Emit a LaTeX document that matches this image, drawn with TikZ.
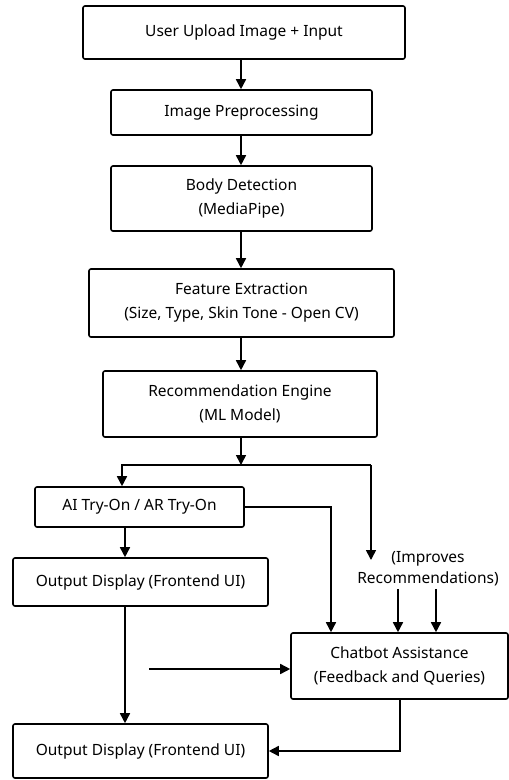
\documentclass[tikz,border=0pt]{standalone}
\usepackage{fontspec}
\setmainfont{Noto Sans}
\usetikzlibrary{arrows.meta}
\tikzset{
  box/.style={draw, line width=1.6pt, rounded corners=2pt, rectangle, align=center,
    inner sep=0pt, font=\fontsize{15.5}{24}\selectfont},
  arr/.style={line width=1.6pt, -{Triangle[length=10pt,width=10pt]}},
  lbl/.style={align=center, inner sep=0pt, font=\fontsize{15.5}{21}\selectfont}
}
\begin{document}
\begin{tikzpicture}[x=1pt, y=-1pt]
  \useasboundingbox[fill=white] (0,0) rectangle (509,780);

  % main pipeline
  \node[box, minimum width=322pt, minimum height=53pt] (up)   at (244,32.5)  {User Upload Image + Input};
  \node[box, minimum width=261pt, minimum height=45pt] (pre)  at (241.5,112.5) {Image Preprocessing};
  \node[box, minimum width=261pt, minimum height=65pt] (body) at (241.5,198.5) {Body Detection\\(MediaPipe)};
  \node[box, minimum width=305pt, minimum height=68pt] (feat) at (241.5,303) {Feature Extraction\\(Size, Type, Skin Tone - Open CV)};
  \node[box, minimum width=274pt, minimum height=66pt] (rec)  at (240,404) {Recommendation Engine\\(ML Model)};

  % lower part
  \node[box, minimum width=209pt, minimum height=40pt] (try)  at (139.5,507) {AI Try-On / AR Try-On};
  \node[box, minimum width=255pt, minimum height=48pt] (out1) at (140.5,582) {Output Display (Frontend UI)};
  \node[box, minimum width=217pt, minimum height=66pt] (chat) at (399.5,666) {Chatbot Assistance\\(Feedback and Queries)};
  \node[box, minimum width=255pt, minimum height=54pt] (out2) at (140.5,751) {Output Display (Frontend UI)};
  \node[lbl] (imp) at (428,568.5) {(Improves\\Recommendations)};

  % helper coordinates
  \coordinate (mid)  at (241,0);
  \coordinate (j)    at (241,465);
  \coordinate (jl)   at (122,465);
  \coordinate (jr)   at (371,465);
  \coordinate (re)   at (371,560);
  \coordinate (col)  at (125,0);
  \coordinate (cx)   at (331,0);
  \coordinate (ia)   at (398,0);
  \coordinate (ib)   at (436,0);
  \coordinate (cb)   at (400,0);
  \coordinate (fb)   at (149,669);

  % pipeline arrows
  \draw[arr] (up.south -| mid) -- (pre.north -| mid);
  \draw[arr] (pre.south -| mid) -- (body.north -| mid);
  \draw[arr] (body.south -| mid) -- (feat.north -| mid);
  \draw[arr] (feat.south -| mid) -- (rec.north -| mid);
  \draw[arr] (rec.south -| mid) -- (j);

  % split
  \draw[arr] (jr) -- (jl) -- (try.north -| jl);
  \draw[arr] (jr) -- (re);

  % try-on branches
  \draw[arr] (try.east) -| (chat.north -| cx);
  \draw[arr] (try.south -| col) -- (out1.north -| col);
  \draw[arr] (out1.south -| col) -- (out2.north -| col);

  % feedback
  \draw[arr] (imp.south -| ia) ++(0,3) -- (chat.north -| ia);
  \draw[arr] (imp.south -| ib) ++(0,3) -- (chat.north -| ib);
  \draw[arr] (fb) -- (chat.west |- fb);
  \draw[arr] (chat.south -| cb) |- (out2.east);
\end{tikzpicture}
\end{document}
